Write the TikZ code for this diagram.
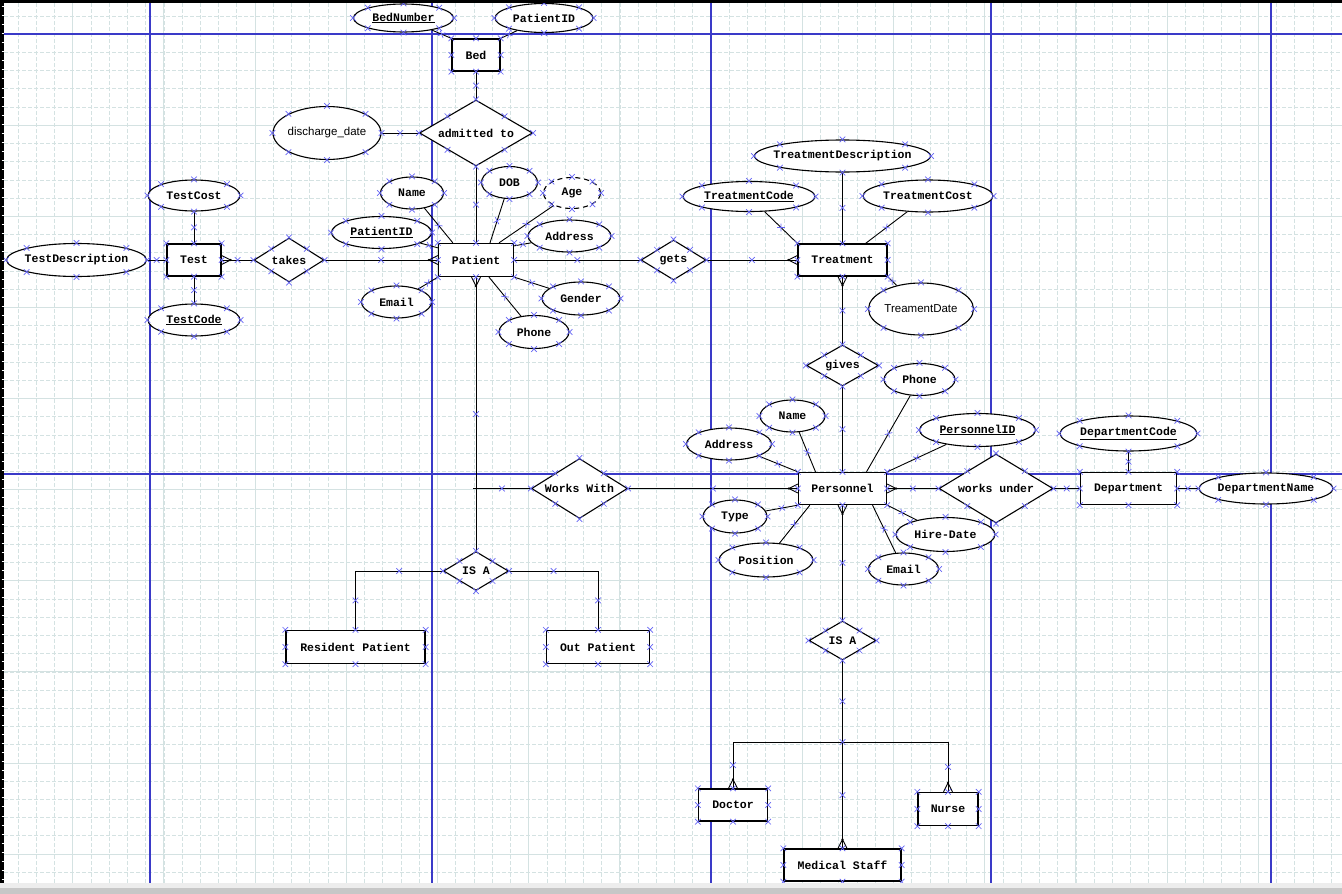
\documentclass[tikz,border=0pt]{standalone}
\usepackage{fontspec}
\setmonofont{Liberation Mono}
\setsansfont{Liberation Sans}
\usetikzlibrary{shapes.geometric,decorations.markings}

\definecolor{gridline}{RGB}{212,226,226}
\definecolor{pageline}{RGB}{58,58,200}
\definecolor{handle}{RGB}{100,100,245}

% selection handle and crow's foot
\newcommand\xmk{\draw[handle, line width=0.7pt] (-2.8pt,-2.8pt) -- (2.8pt,2.8pt) (-2.8pt,2.8pt) -- (2.8pt,-2.8pt);}
\newcommand\crow[2]{\begin{scope}[shift={(#1)}, rotate=#2]
    \draw[line width=0.9pt] (9pt,0pt) -- (0pt,4.5pt) (9pt,0pt) -- (0pt,-4.5pt);
    \fill (9pt,0pt) circle (1.2pt);
  \end{scope}}
\newcommand\nb[1]{\makebox[0pt]{#1}}

\begin{document}
\begin{tikzpicture}[x=1pt, y=-1pt,
      erfont/.style={font=\ttfamily\bfseries\fontsize{11.5}{12}\selectfont},
      ent/.style={draw, fill=white, line width=1.3pt, inner sep=0pt, erfont},
      rel/.style={diamond, aspect=1.7, draw, fill=white, line width=1.1pt, inner sep=0pt, erfont},
      attr/.style={ellipse, draw, fill=white, line width=1.1pt, inner sep=0pt, erfont},
      wh/.style 2 args={minimum width=#1, minimum height=#2},
      conn/.style={line width=0.9pt, postaction={decorate,
                   decoration={markings, mark=at position #1 with {\xmk}}}},
      conn/.default=0.5]
    \useasboundingbox (0,0) rectangle (1342,894);
    \fill[white] (0,0) rectangle (1342,894);

    % grid
    \begin{scope}
      \clip (4,3) rectangle (1342,883);
      \foreach \i in {-3,...,69}
        \draw[gridline, line width=0.8pt, dash pattern=on 3.5pt off 2.5pt]
          ({72.7+18.24*\i},3) -- ({72.7+18.24*\i},883);
      \foreach \j in {-1,...,47}
        \draw[gridline, line width=0.8pt, dash pattern=on 3.5pt off 2.5pt]
          (4,{34.2+18.22*\j}) -- (1342,{34.2+18.22*\j});
      \foreach \i in {0,...,13}
        \draw[gridline, line width=0.9pt] ({72.7+91.2*\i},3) -- ({72.7+91.2*\i},883);
      \foreach \j in {0,...,9}
        \draw[gridline, line width=0.9pt] (4,{34.2+91.1*\j}) -- (1342,{34.2+91.1*\j});
    \end{scope}
    \foreach \bx in {150,432,711,991,1271}
      \draw[pageline, line width=1.6pt] (\bx,3) -- (\bx,883);
    \foreach \by in {34,474}
      \draw[pageline, line width=1.6pt] (4,\by) -- (1342,\by);

    % entities
    \node[ent, wh={48}{32}] (bed) at (476,55) {Bed};
    \node[ent, wh={54}{32}] (test) at (194,260) {Test};
    \node[ent, wh={75}{33}] (patient) at (476,260) {Patient};
    \node[ent, wh={89}{32}] (treatment) at (842.5,260) {Treatment};
    \node[ent, wh={88}{32}] (personnel) at (842.5,488.5) {Personnel};
    \node[ent, wh={96}{32}] (dept) at (1128.5,488.5) {Department};
    \node[ent, wh={139}{33}] (rp) at (355.5,647) {Resident Patient};
    \node[ent, wh={103}{33}] (op) at (598,647) {Out Patient};
    \node[ent, wh={69}{32}] (doctor) at (733,805) {Doctor};
    \node[ent, wh={60}{33}] (nurse) at (948,809) {Nurse};
    \node[ent, wh={117}{32}] (ms) at (842.5,865) {Medical Staff};

    % relationships
    \node[rel, wh={113}{66}] (admit) at (476,133) {admitted to};
    \node[rel, wh={70}{44}] (takes) at (289,260) {takes};
    \node[rel, wh={65}{40}] (gets) at (673.5,260) {gets};
    \node[rel, wh={72}{41}] (gives) at (842.5,365.5) {gives};
    \node[rel, wh={96}{60}] (wwith) at (579.5,488.5) {Works With};
    \node[rel, wh={114}{69}] (wunder) at (996,488.5) {works under};
    \node[rel, wh={65}{39}] (isa1) at (476,571) {IS A};
    \node[rel, wh={67}{39}] (isa2) at (842.5,640.5) {IS A};

    % attributes
    \node[attr, wh={100}{28}] (bednum) at (403.5,18) {\nb{\underline{BedNumber}}};
    \node[attr, wh={98}{29}] (bedpid) at (544,18) {\nb{PatientID}};
    \node[attr, wh={108}{53}, font=\sffamily\fontsize{11.5}{12}\selectfont] (dis) at (327,133) {\nb{discharge\_date}};
    \node[attr, wh={92}{31}] (tcost) at (194,195.5) {\nb{TestCost}};
    \node[attr, wh={140}{33}] (tdescr) at (76.5,260) {\nb{TestDescription}};
    \node[attr, wh={92}{32}] (tcode) at (194,320) {\nb{\underline{TestCode}}};
    \node[attr, wh={63}{32}] (pname) at (412,193) {\nb{Name}};
    \node[attr, wh={100}{32}] (ppid) at (381.5,232.5) {\nb{\underline{PatientID}}};
    \node[attr, wh={70}{32}] (pmail) at (396.5,302) {\nb{Email}};
    \node[attr, wh={56}{32}] (dob) at (509.5,182.5) {\nb{DOB}};
    \node[attr, wh={57}{31}, dash pattern=on 5pt off 4pt] (age) at (572,193) {\nb{Age}};
    \node[attr, wh={83}{32}] (paddr) at (569.5,236) {\nb{Address}};
    \node[attr, wh={78}{33}] (gender) at (581,298.5) {\nb{Gender}};
    \node[attr, wh={70}{33}] (pphone) at (534,332) {\nb{Phone}};
    \node[attr, wh={176}{32}] (trdesc) at (842.5,156) {\nb{TreatmentDescription}};
    \node[attr, wh={132}{30}] (trcode) at (749,196.5) {\nb{\underline{TreatmentCode}}};
    \node[attr, wh={130}{32}] (trcost) at (928,196) {\nb{TreatmentCost}};
    \node[attr, wh={105}{52}, font=\sffamily\fontsize{11.5}{12}\selectfont] (trdate) at (921,309) {\nb{TreamentDate}};
    \node[attr, wh={71}{32}] (sphone) at (919.5,379.5) {\nb{Phone}};
    \node[attr, wh={65}{32}] (sname) at (792.5,416) {\nb{Name}};
    \node[attr, wh={85}{32}] (saddr) at (729,444) {\nb{Address}};
    \node[attr, wh={116}{33}] (spid) at (977.5,430) {\nb{\underline{PersonnelID}}};
    \node[attr, wh={64}{33}] (stype) at (735,516.5) {\nb{Type}};
    \node[attr, wh={94}{34}] (spos) at (766,560) {\nb{Position}};
    \node[attr, wh={99}{34}] (shire) at (945.5,534.5) {\nb{Hire-Date}};
    \node[attr, wh={70}{32}] (smail) at (903.5,569) {\nb{Email}};
    \node[attr, wh={137}{35}] (dcode) at (1128.5,433.5) {\nb{\underline{DepartmentCode}}};
    \node[attr, wh={134}{31}] (dname) at (1266,488.5) {\nb{DepartmentName}};

    \coordinate (wwl) at (473,488.5);
    \coordinate (rpc) at (rp.north |- isa1.west);
    \coordinate (opc) at (op.north |- isa1.east);
    \coordinate (junc) at (842.5,742);
    \coordinate (dcc) at (doctor.north |- junc);
    \coordinate (ncc) at (nurse.north |- junc);

    % connectors
    \draw[conn] (bednum) -- (bed.north west);
    \draw[conn] (bedpid) -- (bed.north east);
    \draw[conn] (bed) -- (admit);
    \draw[conn] (dis) -- (admit);
    \draw[conn] (admit) -- (patient);
    \draw[conn] (tcost) -- (test);
    \draw[conn] (tdescr) -- (test);
    \draw[conn] (tcode) -- (test);
    \draw[conn] (test) -- (takes);
    \draw[conn] (takes) -- (patient);
    \draw[conn] (pname) -- ([xshift=15pt]patient.north west);
    \draw[conn] (ppid) -- ([yshift=-5pt]patient.north west);
    \draw[conn] (pmail) -- (patient.south west);
    \draw[conn] (dob) -- ([xshift=14pt]patient.north);
    \draw[conn] (age) -- ([xshift=23pt]patient.north);
    \draw[conn] (paddr) -- ([yshift=-3pt]patient.north east);
    \draw[conn] (gender) -- (patient.south east);
    \draw[conn] (pphone) -- ([xshift=13pt]patient.south);
    \draw[conn] (patient) -- (gets);
    \draw[conn] (gets) -- (treatment);
    \draw[conn] (trdesc) -- (treatment);
    \draw[conn] (trcode) -- (treatment.north west);
    \draw[conn] (trcost) -- ([xshift=-22pt]treatment.north east);
    \draw[conn] (trdate) -- (treatment.south east);
    \draw[conn] (treatment) -- (gives);
    \draw[conn] (gives) -- (personnel);
    \draw[conn] (sphone) -- ([xshift=24pt]personnel.north);
    \draw[conn] (sname) -- ([xshift=-27pt]personnel.north);
    \draw[conn] (saddr) -- (personnel.north west);
    \draw[conn] (spid) -- (personnel.north east);
    \draw[conn] (stype) -- (personnel.south west);
    \draw[conn] (spos) -- ([xshift=12pt]personnel.south west);
    \draw[conn] (shire) -- (personnel.south east);
    \draw[conn] (smail) -- ([xshift=30pt]personnel.south);
    \draw[conn] (patient) -- (isa1);
    \draw[conn] (wwith) -- (wwl);
    \draw[conn] (wwith) -- (personnel);
    \draw[conn] (personnel) -- (wunder);
    \draw[conn] (wunder) -- (dept);
    \draw[conn] (dcode) -- (dept);
    \draw[conn] (dept) -- (dname);
    \draw[conn] (isa1.west) -- (rpc);
    \draw[conn] (rpc) -- (rp.north);
    \draw[conn] (isa1.east) -- (opc);
    \draw[conn] (opc) -- (op.north);
    \draw[conn] (personnel) -- (isa2);
    \draw[conn] (isa2) -- (junc);
    \draw[conn] (junc) -- (ms);
    \draw[line width=0.9pt] (dcc) -- (ncc);
    \draw[conn] (dcc) -- (doctor.north);
    \draw[conn] (ncc) -- (nurse.north);
    \begin{scope}[shift={(junc)}]\xmk\end{scope}

    % crow's feet
    \crow{test.east}{0}
    \crow{patient.west}{180}
    \crow{patient.south}{-90}
    \crow{treatment.west}{180}
    \crow{treatment.south}{-90}
    \crow{personnel.west}{180}
    \crow{personnel.east}{0}
    \crow{personnel.south}{-90}
    \crow{doctor.north}{90}
    \crow{nurse.north}{90}
    \crow{ms.north}{90}

    % handles
    \foreach \n in {bed,test,patient,treatment,personnel,dept,rp,op,doctor,nurse,ms,
                    admit,takes,gets,gives,wwith,wunder,isa1,isa2,
                    bednum,bedpid,dis,tcost,tdescr,tcode,pname,ppid,pmail,dob,age,
                    paddr,gender,pphone,trdesc,trcode,trcost,trdate,sphone,sname,
                    saddr,spid,stype,spos,shire,smail,dcode,dname}
      \foreach \a in {north,south,east,west,north east,north west,south east,south west}
        {\begin{scope}[shift={(\n.\a)}]\xmk\end{scope}}

    % window frame
    \fill[black] (0,0) rectangle (1342,3);
    \fill[black] (0,0) rectangle (3.5,883);
    \foreach \k in {0,...,96}
      \draw[white, line width=0.8pt] (1.5,{6+9.1*\k}) -- (3.5,{6+9.1*\k});
    \fill[black!7] (0,883) rectangle (1342,888);
    \fill[black!22] (0,888) rectangle (1342,894);
  \end{tikzpicture}
\end{document}
